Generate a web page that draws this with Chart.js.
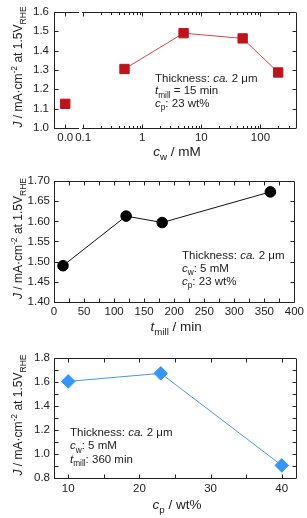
<!DOCTYPE html>
<html lang="en">
<head>
<meta charset="UTF-8">
<title>J at 1.5 V RHE</title>
<script src="https://cdn.jsdelivr.net/npm/chart.js@4/dist/chart.umd.min.js"></script>
<style>
  body { margin: 0; background: #fff; }
  #wrap { position: relative; width: 307px; height: 518px; }
  canvas { position: absolute; left: 0; }
</style>
</head>
<body>
<div id="wrap">
  <canvas id="grafico1" width="307" height="165" style="top:0px"></canvas>
  <canvas id="grafico2" width="307" height="175" style="top:165px"></canvas>
  <canvas id="grafico3" width="307" height="178" style="top:340px"></canvas>
</div>
<script>
// values
var cwZero = [0]
var jAtZero = [1.125]
var cwValues = [0.5, 5, 50, 200]
var jByCw = [1.305, 1.49, 1.463, 1.287]

var tMill = [15, 120, 180, 360]
var jByTmill = [1.49, 1.613, 1.597, 1.673]

var cpValues = [10, 23, 40]
var jByCp = [1.605, 1.672, 0.905]

// tick labels
var cwTicks = [0.1, 1, 10, 100]
var jTicks1 = [1.0, 1.1, 1.2, 1.3, 1.4, 1.5, 1.6]
var tTicks = [0, 50, 100, 150, 200, 250, 300, 350, 400]
var tMinor = [25, 75, 125, 175, 225, 275, 325, 375]
var jTicks2 = [1.40, 1.45, 1.50, 1.55, 1.60, 1.65, 1.70]
var cpTicks = [10, 20, 30, 40]
var cpMinor = [15, 25, 35]
var jTicks3 = [0.8, 1.0, 1.2, 1.4, 1.6, 1.8]
var jMinor3 = [0.9, 1.1, 1.3, 1.5, 1.7]

var FONT = '"Liberation Sans", Arial, sans-serif'
var INK = '#222'
var RED = 'rgb(192, 18, 26)'
var BLUE = 'rgb(52, 150, 250)'

var yTitle = [['J', 'i'], [' / mA\u00b7cm', ''], ['-2', 'sup'], [' at 1.5V', ''], ['RHE', 'sub']]
var thick = [['Thickness: ', ''], ['ca.', 'i'], [' 2 \u03bcm', '']]

function fontFor(s, size) {
  var small = s == 'sub' || s == 'sup'
  return (s == 'i' ? 'italic ' : '') + (small ? size * 0.72 : size) + 'px ' + FONT
}

function drawRich(ctx, parts, x, y, size, align) {
  var w = 0
  parts.forEach(function (p) { ctx.font = fontFor(p[1], size); w += ctx.measureText(p[0]).width })
  var cx = align == 'center' ? x - w / 2 : x
  parts.forEach(function (p) {
    ctx.font = fontFor(p[1], size)
    var dy = p[1] == 'sub' ? size * 0.3 : p[1] == 'sup' ? -size * 0.42 : 0
    ctx.fillText(p[0], cx, y + dy)
    cx += ctx.measureText(p[0]).width
  })
}

function px(v) { return Math.round(v) + 0.5 }

// box, inward ticks on all four sides, titles and the note
function decor(cfg) {
  return {
    id: 'decor',
    beforeDatasetsDraw: function (chart) {
      var ctx = chart.ctx, a = chart.chartArea
      var top = px(a.top), bot = px(a.bottom)
      ctx.save()
      ctx.strokeStyle = INK
      ctx.lineWidth = 1
      ctx.beginPath()
      cfg.xs.forEach(function (seg) {
        var s = chart.scales[seg.id]
        var l = s.left + (seg.trimLeft || 0), r = s.right - (seg.trimRight || 0)
        ctx.moveTo(l, top); ctx.lineTo(r, top)
        ctx.moveTo(l, bot); ctx.lineTo(r, bot)
        seg.marks.forEach(function (m) {
          if (m[0] <= s.min || m[0] >= s.max) return
          var x = px(s.getPixelForValue(m[0]))
          ctx.moveTo(x, bot); ctx.lineTo(x, bot - m[1])
          ctx.moveTo(x, top); ctx.lineTo(x, top + m[1])
        })
      })
      var ys = chart.scales.y
      var l = px(a.left), r = px(a.right)
      ctx.moveTo(l, top); ctx.lineTo(l, bot)
      ctx.moveTo(r, top); ctx.lineTo(r, bot)
      cfg.ymarks.forEach(function (m) {
        if (m[0] <= ys.min + 1e-9 || m[0] >= ys.max - 1e-9) return
        var y = px(ys.getPixelForValue(m[0]))
        ctx.moveTo(l, y); ctx.lineTo(l + m[1], y)
        ctx.moveTo(r, y); ctx.lineTo(r - m[1], y)
      })
      ctx.stroke()
      ctx.restore()
    },
    afterDraw: function (chart) {
      var ctx = chart.ctx, a = chart.chartArea
      ctx.save()
      ctx.fillStyle = INK
      ctx.textBaseline = 'alphabetic'
      ctx.save()
      ctx.translate(22, (a.top + a.bottom) / 2 - 3)
      ctx.rotate(-Math.PI / 2)
      drawRich(ctx, yTitle, 0, 0, 12, 'center')
      ctx.restore()
      drawRich(ctx, cfg.xTitle, (a.left + a.right) / 2 + 2, cfg.xTitleY, 13.5, 'center')
      cfg.note.forEach(function (ln, i) {
        drawRich(ctx, ln, cfg.noteX, cfg.noteY + i * cfg.noteGap, 11.5, 'left')
      })
      ctx.restore()
    }
  }
}

function tickFont() { return { family: FONT, size: 11.5 } }

function yScale(min, max, ticks, digits, pad) {
  return {
    type: 'linear', min: min, max: max,
    grid: { display: false, drawTicks: false }, border: { display: false },
    ticks: { padding: pad, color: INK, font: tickFont(), autoSkip: false,
      callback: function (v) { return Number(v).toFixed(digits) } },
    afterBuildTicks: function (s) { s.ticks = ticks.map(function (v) { return { value: v } }) },
    afterFit: function (s) { s.width = 54 }
  }
}

function xScale(type, min, max, ticks, fmt, h, pad) {
  return {
    type: type, position: 'bottom', min: min, max: max,
    grid: { display: false, drawTicks: false }, border: { display: false },
    ticks: { padding: pad, color: INK, font: tickFont(), autoSkip: false, maxRotation: 0, callback: fmt },
    afterBuildTicks: function (s) { s.ticks = ticks.map(function (v) { return { value: v } }) },
    afterFit: function (s) { s.height = h }
  }
}

function pts(xs, ys) { return xs.map(function (v, i) { return { x: v, y: ys[i] } }) }

function marks(list, len) { return list.map(function (v) { return [v, len] }) }

var common = {
  responsive: false,
  animation: false,
  plugins: { legend: { display: false }, tooltip: { enabled: false } }
}

// log minor marks 0.2..0.9, 2..9, ...
var logMarks = []
cwTicks.forEach(function (d) {
  for (var k = 1; k <= 9; k++) logMarks.push([d * k, k == 1 ? 4 : 2.5])
})

// ---- chart 1: J vs cw (broken axis) ----
var sx0 = xScale('linear', -0.85, 1.15, cwZero, function () { return '0.0' }, 37, 3)
sx0.stack = 'cw'; sx0.stackWeight = 26.5
var sx1 = xScale('logarithmic', 0.09, 400, cwTicks, function (v) { return String(v) }, 37, 3)
sx1.stack = 'cw'; sx1.stackWeight = 215.5

new Chart(document.getElementById('grafico1'), {
  type: 'scatter',
  data: { datasets: [
    { data: pts(cwZero, jAtZero), xAxisID: 'x0', yAxisID: 'y', pointStyle: 'rect', pointRadius: 6.6,
      pointBackgroundColor: RED, pointBorderColor: RED, pointBorderWidth: 1 },
    { data: pts(cwValues, jByCw), xAxisID: 'x1', yAxisID: 'y', showLine: true, borderColor: 'rgb(214, 70, 70)', borderWidth: 1,
      pointStyle: 'rect', pointRadius: 6.6, pointBackgroundColor: RED, pointBorderColor: RED, pointBorderWidth: 1 }
  ] },
  options: Object.assign({}, common, {
    layout: { padding: { top: 6, right: 11, left: 0, bottom: 0 } },
    scales: { x0: sx0, x1: sx1, y: yScale(1.0, 1.6, jTicks1, 1, 5) }
  }),
  plugins: [decor({
    xs: [{ id: 'x0', marks: marks(cwZero, 4), trimRight: 1.5 }, { id: 'x1', marks: logMarks, trimLeft: 1.5 }],
    ymarks: marks(jTicks1, 4),
    xTitle: [['c', 'i'], ['w', 'sub'], [' / mM', '']], xTitleY: 156,
    note: [thick, [['t', 'i'], ['mill', 'sub'], [' = 15 min', '']], [['c', 'i'], ['p', 'sub'], [': 23 wt%', '']]],
    noteX: 155, noteY: 82, noteGap: 12.3
  })]
})

// ---- chart 2: J vs tmill ----
new Chart(document.getElementById('grafico2'), {
  type: 'scatter',
  data: { datasets: [
    { data: pts(tMill, jByTmill), showLine: true, borderColor: '#111', borderWidth: 1,
      pointStyle: 'circle', pointRadius: 5.3, pointBackgroundColor: '#000', pointBorderColor: '#000', pointBorderWidth: 1 }
  ] },
  options: Object.assign({}, common, {
    layout: { padding: { top: 16, right: 11, left: 0, bottom: 0 } },
    scales: {
      x: xScale('linear', 0, 400, tTicks, function (v) { return String(v) }, 38, 3),
      y: yScale(1.40, 1.70, jTicks2, 2, 4)
    }
  }),
  plugins: [decor({
    xs: [{ id: 'x', marks: marks(tTicks, 4).concat(marks(tMinor, 4)) }],
    ymarks: marks(jTicks2, 4),
    xTitle: [['t', 'i'], ['mill', 'sub'], [' / min', '']], xTitleY: 166,
    note: [thick, [['c', 'i'], ['w', 'sub'], [': 5 mM', '']], [['c', 'i'], ['p', 'sub'], [': 23 wt%', '']]],
    noteX: 182, noteY: 94, noteGap: 13
  })]
})

// ---- chart 3: J vs cp ----
new Chart(document.getElementById('grafico3'), {
  type: 'scatter',
  data: { datasets: [
    { data: pts(cpValues, jByCp), showLine: true, borderColor: 'rgb(70, 150, 240)', borderWidth: 1,
      pointStyle: 'rectRot', pointRadius: 6.8, pointBackgroundColor: BLUE, pointBorderColor: BLUE, pointBorderWidth: 1 }
  ] },
  options: Object.assign({}, common, {
    layout: { padding: { top: 18, right: 11, left: 0, bottom: 0 } },
    scales: {
      x: xScale('linear', 8, 42, cpTicks, function (v) { return String(v) }, 40, 4),
      y: yScale(0.8, 1.8, jTicks3, 1, 4)
    }
  }),
  plugins: [decor({
    xs: [{ id: 'x', marks: marks(cpTicks, 4).concat(marks(cpMinor, 4)) }],
    ymarks: marks(jTicks3, 4).concat(marks(jMinor3, 4)),
    xTitle: [['c', 'i'], ['p', 'sub'], [' / wt%', '']], xTitleY: 169,
    note: [thick, [['c', 'i'], ['w', 'sub'], [': 5 mM', '']], [['t', 'i'], ['mill', 'sub'], [': 360 min', '']]],
    noteX: 70, noteY: 96, noteGap: 13.3
  })]
})
</script>
</body>
</html>
